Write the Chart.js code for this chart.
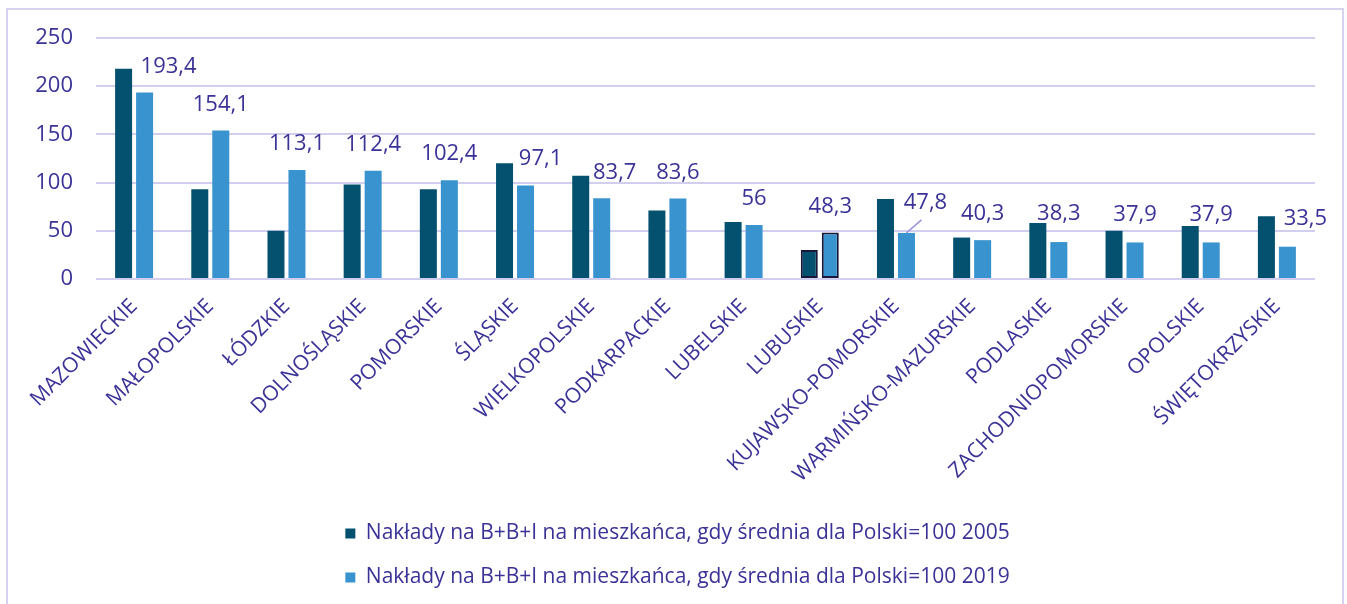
<!DOCTYPE html>
<html>
<head>
<meta charset="utf-8">
<script src="https://cdn.jsdelivr.net/npm/chart.js@4/dist/chart.umd.min.js"></script>
<style>
html,body{margin:0;padding:0;background:#fff;}
#wrap{width:1347px;height:604px;position:relative;}
</style>
</head>
<body>
<div id="wrap"><canvas id="c" width="1347" height="604"></canvas></div>
<script>
const categories = ["MAZOWIECKIE","MAŁOPOLSKIE","ŁÓDZKIE","DOLNOŚLĄSKIE","POMORSKIE","ŚLĄSKIE","WIELKOPOLSKIE","PODKARPACKIE","LUBELSKIE","LUBUSKIE","KUJAWSKO-POMORSKIE","WARMIŃSKO-MAZURSKIE","PODLASKIE","ZACHODNIOPOMORSKIE","OPOLSKIE","ŚWIĘTOKRZYSKIE"];
const values2005 = [218,93,50,98,93,120,107,71,59,30,83,43,58,50,55,65];
const values2019 = [193.4,154.1,113.1,112.4,102.4,97.1,83.7,83.6,56,48.3,47.8,40.3,38.3,37.9,37.9,33.5];
const seriesNames = ["Nakłady na B+B+I na mieszkańca, gdy średnia dla Polski=100 2005","Nakłady na B+B+I na mieszkańca, gdy średnia dla Polski=100 2019"];
const yTicks = [0,50,100,150,200,250];

// label nudges (px) for the 2019 value labels
const labelNudgeX = [24,0,0,0,0,15,13,0,0,0,19,0,0,0,0,18];
const labelNudgeY = [0,0,0,0,-1,-1,0,0,0,0,-4,0,-2,-2,-2,-2];

const TEXT = '#3A3296';
const GRID = '#D2CEEE';

const framePlugin = {
  id:'frame',
  beforeDraw(chart){
    const ctx = chart.ctx;
    ctx.save();
    ctx.fillStyle='#fff';
    ctx.fillRect(0,0,chart.width,chart.height);
    ctx.strokeStyle='#D6D2F0';
    ctx.lineWidth=2;
    ctx.strokeRect(7,9,1336,640);
    ctx.restore();
  }
};

const legendShift = {
  id:'legendShift',
  afterLayout(chart){
    if (chart.legend) { chart.legend.left += 20; chart.legend.right += 20; }
  }
};

const labelPlugin = {
  id:'vlabels',
  afterDatasetsDraw(chart){
    const ctx = chart.ctx;
    const meta = chart.getDatasetMeta(1);
    ctx.save();
    ctx.font = '22px "Open Sans"';
    ctx.fillStyle = TEXT;
    ctx.textAlign = 'center';
    ctx.textBaseline = 'middle';
    meta.data.forEach((bar,i)=>{
      const v = values2019[i];
      const txt = String(v).replace('.', ',');
      const x = bar.x + labelNudgeX[i];
      const y = bar.y - 26 + labelNudgeY[i];
      if (i === 10) {
        ctx.strokeStyle = '#9C95DE';
        ctx.lineWidth = 1.5;
        ctx.beginPath();
        ctx.moveTo(bar.x, bar.y);
        ctx.lineTo(bar.x + 15, bar.y - 13);
        ctx.stroke();
      }
      ctx.fillText(txt, x, y);
    });
    ctx.restore();
  }
};

new Chart(document.getElementById('c'), {
  type:'bar',
  data:{
    labels:categories,
    datasets:[
      {label:seriesNames[0], data:values2005, backgroundColor:'#03506F',
       borderColor:'#17183A', borderWidth:categories.map(c=>c==='LUBUSKIE'?2:0), borderSkipped:false,
       categoryPercentage:0.551, barPercentage:0.81},
      {label:seriesNames[1], data:values2019, backgroundColor:'#3893CF',
       borderColor:'#17183A', borderWidth:categories.map(c=>c==='LUBUSKIE'?2:0), borderSkipped:false,
       categoryPercentage:0.551, barPercentage:0.81}
    ]
  },
  options:{
    responsive:false,
    animation:false,
    layout:{padding:{top:38,left:0,right:32,bottom:6}},
    plugins:{
      legend:{
        position:'bottom',
        labels:{
          boxWidth:10, boxHeight:10, padding:23,
          color:TEXT,
          font:{family:'"Open Sans"', size:21}
        }
      },
      tooltip:{enabled:false}
    },
    scales:{
      x:{
        grid:{display:false},
        border:{display:false},
        ticks:{
          color:TEXT, autoSkip:false, minRotation:45, maxRotation:45, padding:7,
          font:{family:'"Open Sans"', size:21}
        },
        afterFit(s){ s.height = 221; }
      },
      y:{
        min:0, max:250,
        afterBuildTicks(s){ s.ticks = yTicks.map(v=>({value:v})); },
        grid:{color:GRID, lineWidth:2, drawTicks:false},
        border:{display:false},
        ticks:{color:TEXT, padding:23, font:{family:'"Open Sans"', size:22}},
        afterFit(s){ s.width = 96; }
      }
    }
  },
  plugins:[framePlugin, legendShift, labelPlugin]
});
</script>
</body>
</html>
